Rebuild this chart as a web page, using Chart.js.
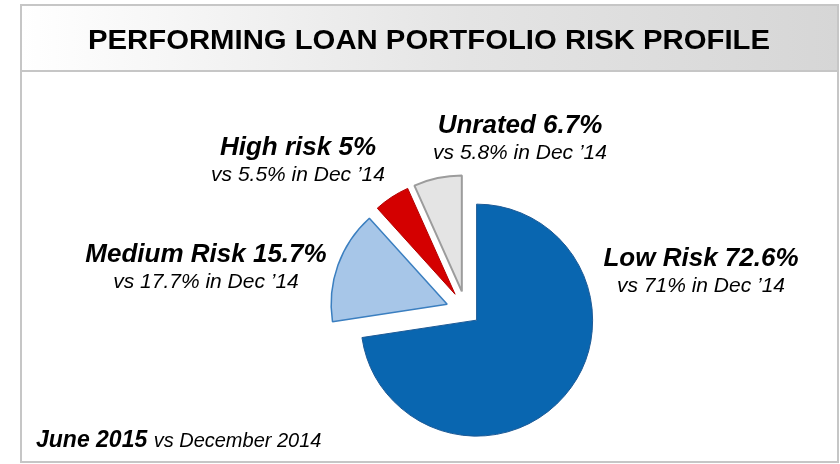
<!DOCTYPE html>
<html>
<head>
<meta charset="utf-8">
<script src="https://cdn.jsdelivr.net/npm/chart.js@4"></script>
<style>
  body { margin: 0; background: #fff; }
  canvas { display: block; }
</style>
</head>
<body>
<canvas id="riskPie" width="840" height="464"></canvas>
<script>
// Performing loan portfolio risk profile, June 2015 vs December 2014

const categories = ["Low Risk", "Medium Risk", "High risk", "Unrated"];
const june2015 = [72.6, 15.7, 5, 6.7];
const dec2014 = [71, 17.7, 5.5, 5.8];

const FONT = '"Liberation Sans", Arial, sans-serif';

// how far each slice is pulled out of the pie (px)
const explode = [14, 20, 20, 20];
// where each label pair sits (centre x, baseline of bold line)
const labelPos = [[701, 266], [206, 262], [298, 155], [520, 133]];

// Chart.js' own offset also grows the radius, so push slices out by hand
const explodeSlices = {
    id: 'explodeSlices',
    afterDatasetUpdate(chart, args) {
        chart.getDatasetMeta(args.index).data.forEach((arc, i) => {
            const mid = (arc.startAngle + arc.endAngle) / 2;
            arc.x += Math.cos(mid) * explode[i];
            arc.y += Math.sin(mid) * explode[i];
        });
    }
};

const frame = {
    id: 'frame',
    beforeDraw(chart) {
        const ctx = chart.ctx;
        ctx.save();
        ctx.strokeStyle = '#c6c6c6';
        ctx.lineWidth = 2;
        ctx.strokeRect(21, 71, 817, 391);
        const g = ctx.createLinearGradient(21, 0, 838, 0);
        g.addColorStop(0, '#ffffff');
        g.addColorStop(0.55, '#e4e4e4');
        g.addColorStop(1, '#d6d6d6');
        ctx.fillStyle = g;
        ctx.fillRect(21, 5, 817, 66);
        ctx.strokeRect(21, 5, 817, 66);
        ctx.restore();
    },
    afterDraw(chart) {
        const ctx = chart.ctx;
        ctx.save();
        ctx.fillStyle = '#000';
        ctx.textBaseline = 'alphabetic';

        // title, squeezed to the original's width
        const title = 'PERFORMING LOAN PORTFOLIO RISK PROFILE';
        ctx.font = 'bold 27px ' + FONT;
        const w = ctx.measureText(title).width;
        ctx.save();
        ctx.translate(429, 49);
        ctx.scale(682 / w, 1);
        ctx.textAlign = 'center';
        ctx.fillText(title, 0, 0);
        ctx.restore();

        ctx.textAlign = 'center';
        categories.forEach((c, i) => {
            const [x, y] = labelPos[i];
            ctx.font = 'italic bold 26px ' + FONT;
            ctx.fillText(c + ' ' + june2015[i] + '%', x, y);
            ctx.font = 'italic 21px ' + FONT;
            ctx.fillText('vs ' + dec2014[i] + '% in Dec \u201914', x, y + 26);
        });

        ctx.textAlign = 'left';
        ctx.font = 'italic bold 23px ' + FONT;
        ctx.fillText('June 2015', 36, 447);
        const jw = ctx.measureText('June 2015 ').width;
        ctx.font = 'italic 20px ' + FONT;
        ctx.fillText('vs December 2014', 36 + jw, 447);
        ctx.restore();
    }
};

new Chart(document.getElementById('riskPie'), {
    type: 'pie',
    data: {
        labels: categories,
        datasets: [{
            data: june2015,
            backgroundColor: ['#0966b0', '#a7c6e8', '#d40000', '#e4e4e4'],
            borderColor: ['#1d5a96', '#3b7fc0', '#b30000', '#9c9c9c'],
            borderWidth: [1, 1.5, 1, 2],
            radius: 116
        }]
    },
    options: {
        responsive: false,
        animation: false,
        events: [],
        layout: {
            padding: { left: 200, right: 108, top: 180, bottom: 22 }
        },
        plugins: {
            legend: { display: false },
            tooltip: { enabled: false }
        }
    },
    plugins: [explodeSlices, frame]
});
</script>
</body>
</html>
